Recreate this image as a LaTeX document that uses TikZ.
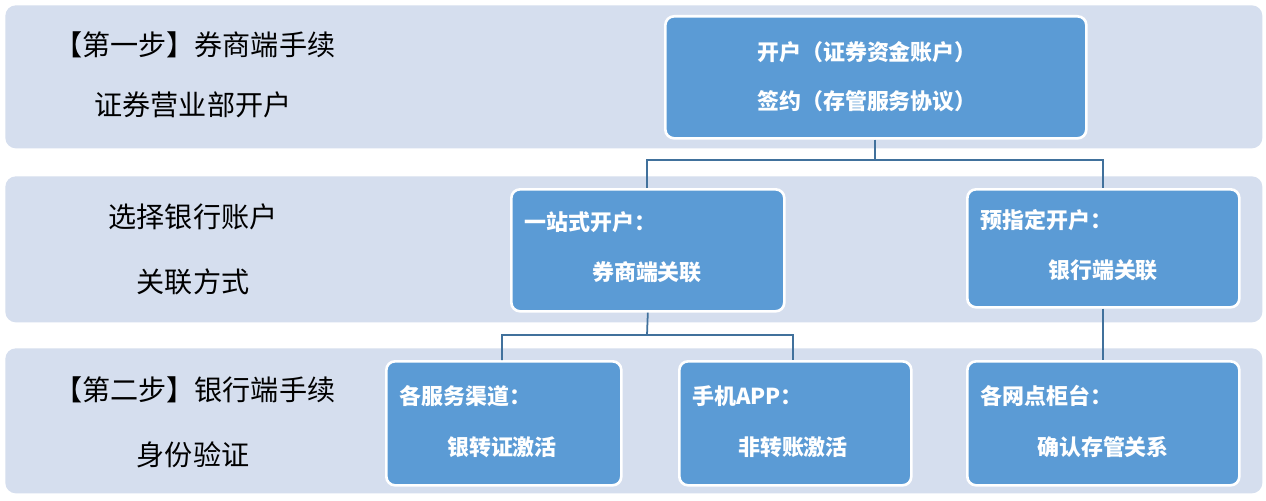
\documentclass[tikz,border=0pt]{standalone}
\usepackage{fontspec}
\setmainfont{Noto Sans CJK SC}
\begin{document}
\begin{tikzpicture}[x=0.02cm,y=-0.02cm,
  band/.style={fill=bandc,draw=none,rounded corners=6pt},
  boxx/.style={fill=boxc,draw=white,line width=1.5pt,rounded corners=5pt},
  btxt/.style={text=white,font=\fontsize{12.5}{14}\selectfont\bfseries},
  ltxt/.style={font=\fontsize{16}{18}\selectfont},
  conn/.style={draw=linec,line width=1pt}]
\definecolor{bandc}{HTML}{D5DEEE}
\definecolor{boxc}{HTML}{5B9BD5}
\definecolor{linec}{HTML}{41719C}
\useasboundingbox (0,0) rectangle (1266,500);
\fill[white] (0,0) rectangle (1266,500);
\node[band,minimum width=1257*0.02cm,minimum height=143*0.02cm,anchor=north west] (b1) at (5,5) {};
\node[band,minimum width=1257*0.02cm,minimum height=146*0.02cm,anchor=north west] (b2) at (5,176) {};
\node[band,minimum width=1257*0.02cm,minimum height=145*0.02cm,anchor=north west] (b3) at (5,348) {};
\node[ltxt,anchor=west] (l1) at (48,45) {【第一步】券商端手续};
\node[ltxt] (l2) at (193,105) {证券营业部开户};
\node[ltxt] (l3) at (193,217) {选择银行账户};
\node[ltxt] (l4) at (193,282) {关联方式};
\node[ltxt,anchor=west] (l5) at (48,390) {【第二步】银行端手续};
\node[ltxt] (l6) at (193,455) {身份验证};
% boxes
\node[boxx,minimum width=421*0.02cm,minimum height=122*0.02cm,anchor=north west] (x1) at (664,15) {};
\node[btxt] at (867,52) {开户（证券资金账户）};
\node[btxt] at (867,101) {签约（存管服务协议）};
\node[boxx,minimum width=273*0.02cm,minimum height=122*0.02cm,anchor=north west] (x2) at (510,188) {};
\node[btxt,anchor=west] at (518,222) {一站式开户：};
\node[btxt] at (647,272) {券商端关联};
\node[boxx,minimum width=272*0.02cm,minimum height=118*0.02cm,anchor=north west] (x3) at (966,188) {};
\node[btxt,anchor=west] at (974,220) {预指定开户：};
\node[btxt] at (1103,270) {银行端关联};
\node[boxx,minimum width=235*0.02cm,minimum height=124*0.02cm,anchor=north west] (x4) at (385,360) {};
\node[btxt,anchor=west] at (393,396) {各服务渠道：};
\node[btxt] at (502,447) {银转证激活};
\node[boxx,minimum width=232*0.02cm,minimum height=124*0.02cm,anchor=north west] (x5) at (678,360) {};
\node[btxt,anchor=west] at (686,396) {手机APP：};
\node[btxt] at (793,447) {非转账激活};
\node[boxx,minimum width=272*0.02cm,minimum height=124*0.02cm,anchor=north west] (x6) at (966,360) {};
\node[btxt,anchor=west] at (974,396) {各网点柜台：};
\node[btxt] at (1103,447) {确认存管关系};
% connectors
\coordinate (j1) at (875,160);
\coordinate (j2) at (647,335);
\draw[conn] (x1.south -| j1) -- (j1) -| (x2.north -| 647,0);
\draw[conn] (j1) -| (x3.north -| 1103,0);
\draw[conn] (x2.south) -- (j2) -| (502,360);
\draw[conn] (j2) -| (793,360);
\draw[conn] (x3.south -| 1103,0) -- (x6.north -| 1103,0);
\end{tikzpicture}
\end{document}
